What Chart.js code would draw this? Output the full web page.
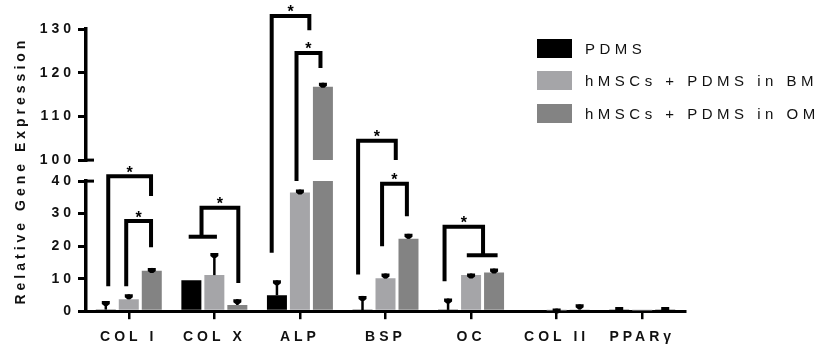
<!DOCTYPE html>
<html>
<head>
<meta charset="utf-8">
<script src="https://cdn.jsdelivr.net/npm/chart.js@4"></script>
<style>
  html, body { margin: 0; padding: 0; background: #fff; }
  #wrap { position: relative; width: 823px; height: 352px; }
  #legend { position: absolute; left: 537px; top: 32px; font-family: "Liberation Sans", Arial, sans-serif;
            font-size: 15px; letter-spacing: 4.5px; color: #111; }
  #legend .row { display: flex; align-items: center; height: 32.5px; white-space: nowrap; }
  #legend .sw { display: inline-block; width: 35px; height: 19px; margin-right: 13px; }
</style>
</head>
<body>
<div id="wrap">
  <canvas id="geneChart" width="823" height="352"></canvas>
  <div id="legend"></div>
</div>
<script>
const categories = ['COL I', 'COL X', 'ALP', 'BSP', 'OC', 'COL II', 'PPARγ'];
const seriesNames = ['PDMS', 'hMSCs + PDMS in BM', 'hMSCs + PDMS in OM'];
const seriesColors = ['#000000', '#a5a5a8', '#838383'];

// mean values and upper error (SD) per gene
const pdmsMean = [0.5, 9.5, 4.9, 0.3, 0.4, 0, 0.5];
const pdmsErr  = [2.6, 0, 4.6, 4.4, 3.5, 0, 0.8];
const bmMean   = [3.7, 11.1, 36.5, 10.1, 11.1, 0.2, 0.2];
const bmErr    = [1.5, 6.8, 0.9, 1.5, 0.5, 0.6, 0];
const omMean   = [12.4, 1.9, 116.8, 22.3, 11.9, 0.5, 0.6];
const omErr    = [0.9, 1.8, 0.9, 1.5, 1.2, 1.6, 0.7];

// broken y axis: lower part and upper part
const lowerTicks = [0, 10, 20, 30, 40];
const upperTicks = [100, 110, 120, 130];

// significance brackets: [left x, right x (category units), top, left foot, right foot]
const sigBrackets = [
  [-0.24, 0.26, 41.5, 7.7, 35.4],
  [-0.03, 0.26, 27.7, 7.7, 19.7],
  [0.85, 1.28, 31.8, 22.9, 8.7],
  [1.67, 2.11, 133, 18, 129.7],
  [1.96, 2.24, 124.5, 40, 121.1],
  [2.68, 3.12, 104.4, 11.3, 100],
  [2.96, 3.25, 39.2, 20, 29.2],
  [3.69, 4.14, 26, 9.2, 17.2]
];
// horizontal group lines: [from x, to x, y]
const groupLines = [
  [0.70, 1.03, 22.9],
  [3.95, 4.31, 17.2]
];

const means = [pdmsMean, bmMean, omMean];
const errs = [pdmsErr, bmErr, omErr];

Chart.defaults.font.family = '"Liberation Sans", Arial, sans-serif';
Chart.defaults.color = '#111';

// pick the part of the broken axis a value belongs to
function yPixel(chart, v) {
  const hi = chart.scales.y2;
  return v >= hi.min ? hi.getPixelForValue(v) : chart.scales.y.getPixelForValue(v);
}

const letterSpacing = {
  id: 'letterSpacing',
  beforeLayout(chart) { chart.ctx.letterSpacing = '4px'; },
  beforeDraw(chart) { chart.ctx.letterSpacing = '4px'; }
};

const errorBars = {
  id: 'errorBars',
  afterDatasetsDraw(chart) {
    const ctx = chart.ctx;
    ctx.save();
    ctx.fillStyle = '#000';
    ctx.strokeStyle = '#000';
    ctx.lineWidth = 2.5;
    means.forEach((m, di) => {
      const meta = chart.getDatasetMeta(di);
      meta.data.forEach((bar, i) => {
        const e = errs[di][i];
        if (!e) return;
        const x = bar.x;
        const y0 = yPixel(chart, m[i]);
        const y1 = yPixel(chart, m[i] + e);
        ctx.beginPath();
        ctx.moveTo(x, y0);
        ctx.lineTo(x, y1);
        ctx.stroke();
        // cap
        ctx.beginPath();
        ctx.moveTo(x - 4, y1);
        ctx.lineTo(x + 4, y1);
        ctx.lineTo(x + 4, y1 + 3);
        ctx.lineTo(x + 1.5, y1 + 5);
        ctx.lineTo(x - 1.5, y1 + 5);
        ctx.lineTo(x - 4, y1 + 3);
        ctx.closePath();
        ctx.fill();
      });
    });
    ctx.restore();
  }
};

const annotations = {
  id: 'annotations',
  afterDraw(chart) {
    const ctx = chart.ctx;
    const x = chart.scales.x;
    const area = chart.chartArea;
    ctx.save();
    ctx.letterSpacing = '0px';
    ctx.strokeStyle = '#000';
    ctx.fillStyle = '#000';
    ctx.lineJoin = 'miter';
    ctx.lineCap = 'butt';

    // axis break marks
    ctx.lineWidth = 3;
    [chart.scales.y2.getPixelForValue(chart.scales.y2.min), chart.scales.y.getPixelForValue(chart.scales.y.max)].forEach(py => {
      ctx.beginPath();
      ctx.moveTo(area.left, py);
      ctx.lineTo(area.left + 8, py);
      ctx.stroke();
    });

    ctx.lineWidth = 4;
    ctx.font = 'bold 16px "Liberation Sans", Arial, sans-serif';
    ctx.textAlign = 'center';
    ctx.textBaseline = 'middle';
    sigBrackets.forEach(([l, r, top, fl, fr]) => {
      const xl = x.getPixelForValue(l);
      const xr = x.getPixelForValue(r);
      const yt = yPixel(chart, top);
      ctx.beginPath();
      ctx.moveTo(xl, yPixel(chart, fl));
      ctx.lineTo(xl, yt);
      ctx.lineTo(xr, yt);
      ctx.lineTo(xr, yPixel(chart, fr));
      ctx.stroke();
      ctx.fillText('*', (xl + xr) / 2, yt - 3);
    });
    groupLines.forEach(([a, b, v]) => {
      const py = yPixel(chart, v);
      ctx.beginPath();
      ctx.moveTo(x.getPixelForValue(a), py);
      ctx.lineTo(x.getPixelForValue(b), py);
      ctx.stroke();
    });
    ctx.restore();
  }
};

const barOpts = { categoryPercentage: 0.806, barPercentage: 0.87, borderWidth: 0 };
const datasets = [];
['y', 'y2'].forEach(axis => {
  means.forEach((m, i) => {
    datasets.push(Object.assign({
      label: seriesNames[i],
      data: m,
      backgroundColor: seriesColors[i],
      yAxisID: axis,
      stack: 's' + i
    }, barOpts));
  });
});

function yPart(weight, ticks) {
  return {
    type: 'linear',
    position: 'left',
    stack: 'gene',
    stacked: false,
    stackWeight: weight,
    min: ticks[0],
    max: ticks[ticks.length - 1],
    afterFit: s => { s.width = 86; },
    grid: { display: true, drawOnChartArea: false, drawTicks: true, tickLength: 8,
            color: '#000', lineWidth: 3, tickWidth: 3, tickColor: '#000' },
    border: { display: true, color: '#000', width: 3.5 },
    ticks: { stepSize: 10, autoSkip: false, padding: 3, color: '#111', font: { size: 14, weight: 'bold' } }
  };
}

const chart = new Chart(document.getElementById('geneChart'), {
  type: 'bar',
  data: { labels: categories, datasets: datasets },
  options: {
    responsive: false,
    animation: false,
    devicePixelRatio: 1,
    layout: { padding: { top: 29, right: 138, bottom: -4, left: 0 } },
    plugins: { legend: { display: false }, tooltip: { enabled: false } },
    scales: {
      x: {
        type: 'category',
        offset: true,
        grid: { display: true, drawOnChartArea: false, drawTicks: true, tickLength: 8,
                color: '#000', lineWidth: 2.5, tickWidth: 2.5, tickColor: '#000', offset: false },
        border: { display: true, color: '#000', width: 3 },
        ticks: { color: '#111', font: { size: 14, weight: 'bold' }, padding: 10, maxRotation: 0, autoSkip: false }
      },
      y: yPart(130, lowerTicks),
      yGap: {
        type: 'linear',
        axis: 'y',
        position: 'left',
        stack: 'gene',
        stackWeight: 21,
        afterFit: s => { s.width = 86; },
        grid: { display: false },
        border: { display: false },
        ticks: { display: false },
        title: { display: true, text: 'Relative Gene Expression', color: '#111',
                 font: { size: 14, weight: 'bold' }, padding: { top: 13, bottom: 0 } }
      },
      y2: yPart(131, upperTicks)
    }
  },
  plugins: [letterSpacing, errorBars, annotations]
});

// html legend from the first three datasets
const legendEl = document.getElementById('legend');
chart.data.datasets.slice(0, seriesNames.length).forEach(ds => {
  const row = document.createElement('div');
  row.className = 'row';
  const sw = document.createElement('span');
  sw.className = 'sw';
  sw.style.background = ds.backgroundColor;
  row.appendChild(sw);
  row.appendChild(document.createTextNode(ds.label));
  legendEl.appendChild(row);
});
</script>
</body>
</html>
